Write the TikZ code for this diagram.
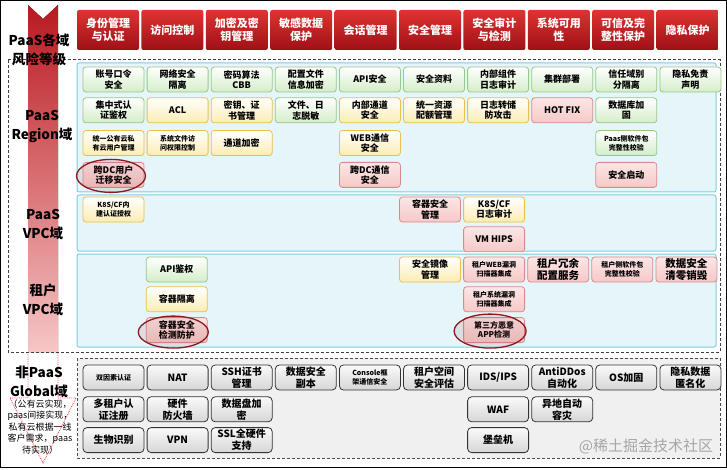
\documentclass[tikz,border=0pt]{standalone}
\usepackage{fontspec}
\setmainfont{Noto Sans CJK SC}
\usetikzlibrary{positioning,shapes.geometric}

\definecolor{hdtop}{RGB}{222,52,50}
\definecolor{hdbot}{RGB}{158,16,22}
\definecolor{grnbd}{RGB}{150,200,135}
\definecolor{grnlo}{RGB}{212,237,200}
\definecolor{ylwbd}{RGB}{232,192,80}
\definecolor{ylwlo}{RGB}{252,236,178}
\definecolor{pnkbd}{RGB}{215,140,140}
\definecolor{pnklo}{RGB}{246,200,200}
\definecolor{gryhi}{RGB}{250,250,250}
\definecolor{grylo}{RGB}{214,214,214}
\definecolor{panelbd}{RGB}{130,205,222}
\definecolor{panelbg}{RGB}{229,245,250}
\definecolor{ringred}{RGB}{140,25,30}
\definecolor{arrtop}{RGB}{185,25,32}
\definecolor{arrmid}{RGB}{228,104,104}
\definecolor{arrbot}{RGB}{246,198,198}

\tikzset{
  cell/.style={rectangle, rounded corners=3pt, minimum width=61pt, minimum height=25pt,
    inner sep=1pt, align=center, line width=0.8pt, font=\fontsize{9}{10.5}\selectfont\bfseries},
  gcell/.style={cell, draw=grnbd, top color=white, bottom color=grnlo},
  ycell/.style={cell, draw=ylwbd, top color=white, bottom color=ylwlo},
  pcell/.style={cell, draw=pnkbd, top color=white!55!pnklo, bottom color=pnklo},
  kcell/.style={cell, rounded corners=4pt, draw=black!80, top color=gryhi, bottom color=grylo,
    font=\fontsize{10}{12}\selectfont\bfseries},
  smalltxt/.style={font=\fontsize{7}{8.5}\selectfont\bfseries},
  midtxt/.style={font=\fontsize{8}{9.5}\selectfont\bfseries},
  bigtxt/.style={font=\fontsize{10.5}{12}\selectfont\bfseries},
  hdr/.style={rectangle, rounded corners=2pt, minimum width=62pt, minimum height=40pt,
    inner sep=1pt, align=center, text=white, top color=hdtop, bottom color=hdbot,
    font=\fontsize{11}{13}\selectfont\bfseries},
  ring/.style={ellipse, draw=ringred, line width=1.3pt, fill=ringred, fill opacity=0.1, inner sep=0pt},
  lbl/.style={align=center, font=\fontsize{13.5}{19}\selectfont\bfseries},
  note/.style={align=center, font=\fontsize{9}{11.5}\selectfont},
  panel/.style={draw=panelbd, line width=1pt, fill=panelbg, rounded corners=2pt},
  dashbox/.style={draw=black!75, line width=1pt, dash pattern=on 3pt off 2pt},
}

\begin{document}
\begin{tikzpicture}[x=1pt, y=-1pt]
\useasboundingbox (0,0) rectangle (727,470);
\draw[line width=1pt] (0.5,0.5) rectangle (726.5,467);

% risk arrow
\fill[top color=arrtop, middle color=arrmid, bottom color=arrbot]
  (28,5) -- (43,19) -- (58,5) -- (58,352) -- (28,352) -- cycle;
\draw[red!75, densely dotted, line width=0.8pt]
  (28,352) -- (28,398) -- (10,398) -- (43,463) -- (76,398) -- (58,398) -- (58,352);

% domains
\draw[dashbox] (8,60) rectangle (720,352);
\draw[panel] (77,63) rectangle (716,192);
\draw[panel] (77,195) rectangle (716,251);
\draw[panel] (77,254) rectangle (716,347);
\draw[dashbox, draw=black!70, fill=black!6] (77,358) rectangle (720,458);

% headers
\node[hdr] (h1) at (108,30) {身份管理\\与认证};
\node[hdr] (h2) [right=2pt of h1] {访问控制};
\node[hdr] (h3) [right=2pt of h2] {加密及密\\钥管理};
\node[hdr] (h4) [right=2pt of h3] {敏感数据\\保护};
\node[hdr] (h5) [right=2pt of h4] {会话管理};
\node[hdr] (h6) [right=2pt of h5] {安全管理};
\node[hdr] (h7) [right=2pt of h6] {安全审计\\与检测};
\node[hdr] (h8) [right=2pt of h7] {系统可用\\性};
\node[hdr] (h9) [right=2pt of h8] {可信及完\\整性保护};
\node[hdr] (h10) [right=2pt of h9] {隐私保护};

% PaaS Region
\node[gcell] (pwd) at (113.5,79.5) {账号口令\\安全};
\node[gcell] (netiso) [right=2.3pt of pwd] {网络安全\\隔离};
\node[gcell] (algo) [right=2.3pt of netiso] {密码算法\\CBB};
\node[gcell] (cfgenc) [right=2.3pt of algo] {配置文件\\信息加密};
\node[gcell] (apisec) [right=2.3pt of cfgenc] {API安全};
\node[gcell] (secdoc) [right=2.3pt of apisec] {安全资料};
\node[gcell] (logaud) [right=2.3pt of secdoc] {内部组件\\日志审计};
\node[gcell] (cluster) [right=2.3pt of logaud] {集群部署};
\node[gcell] (trust) [right=2.3pt of cluster] {信任域别\\分隔离};
\node[gcell] (disclaim) [right=2.3pt of trust] {隐私免责\\声明};

\node[gcell] (cauth) [below=5pt of pwd] {集中式认\\证鉴权};
\node[ycell] (acl) [below=5pt of netiso] {ACL};
\node[ycell] (keymgmt) [below=5pt of algo] {密钥、证\\书管理};
\node[gcell] (mask) [below=5pt of cfgenc] {文件、日\\志脱敏};
\node[ycell] (inchan) [below=5pt of apisec] {内部通道\\安全};
\node[ycell] (quota) [below=5pt of secdoc] {统一资源\\配额管理};
\node[ycell] (logdump) [below=5pt of logaud] {日志转储\\防攻击};
\node[pcell] (hotfix) [below=5pt of cluster] {HOT FIX};
\node[gcell] (dbhard) [below=5pt of trust] {数据库加\\固};

\node[ycell, smalltxt] (uniuser) [below=7pt of cauth] {统一公有云私\\有云用户管理};
\node[ycell, smalltxt] (fileacl) [below=7pt of acl] {系统文件访\\问权限控制};
\node[ycell] (chenc) [below=7pt of keymgmt] {通道加密};
\node[ycell] (websec) [below=7pt of inchan] {WEB通信\\安全};
\node[gcell, smalltxt] (pkgchk) [below=7pt of dbhard] {Paas侧软件包\\完整性校验};

\node[pcell] (dcuser) [below=6pt of uniuser] {跨DC用户\\迁移安全};
\node[pcell] (dccomm) [below=6pt of websec] {跨DC通信\\安全};
\node[pcell] (secboot) [below=6pt of pkgchk] {安全启动};

% PaaS VPC
\node[ycell, smalltxt] (k8sauth) at (113.5,209.5) {K8S/CF内\\建认证授权};
\node[pcell] (ctrmgmt) at (430,209.5) {容器安全\\管理};
\node[ycell] (k8slog) [right=2.3pt of ctrmgmt] {K8S/CF\\日志审计};
\node[pcell] (hips) [below=4pt of k8slog] {VM HIPS};

% tenant VPC
\node[gcell] (apiauth) at (176.8,269.5) {API鉴权};
\node[ycell] (ctriso) [below=4pt of apiauth] {容器隔离};
\node[pcell] (ctrscan) [below=5pt of ctriso] {容器安全\\检测防护};
\node[ycell] (image) at (430,269.5) {安全镜像\\管理};
\node[pcell, smalltxt] (webscan) [right=2.3pt of image] {租户WEB漏洞\\扫描器集成};
\node[pcell, bigtxt] (redund) [right=2.3pt of webscan] {租户冗余\\配置服务};
\node[pcell, smalltxt] (tpkgchk) [right=2.3pt of redund] {租户侧软件包\\完整性校验};
\node[pcell, bigtxt] (wipe) [right=2.3pt of tpkgchk] {数据安全\\清零销毁};
\node[pcell, smalltxt] (sysscan) [below=4pt of webscan] {租户系统漏洞\\扫描器集成};
\node[pcell, midtxt] (appscan) [below=5pt of sysscan] {第三方恶意\\APP检测};

% highlighted items
\node[ring, minimum width=69pt, minimum height=33pt] (dcring) at ([xshift=-2.5pt,yshift=-1pt]dcuser.center) {};
\node[ring, minimum width=70pt, minimum height=32pt] (ctrring) at ([xshift=-3.5pt,yshift=-2pt]ctrscan.center) {};
\node[ring, minimum width=72pt, minimum height=34pt] (appring) at ([xshift=-4pt,yshift=-1pt]appscan.center) {};

% non-PaaS global
\node[kcell, smalltxt] (twofa) at (113.5,377.5) {双因素认证};
\node[kcell] (nat) [right=2.3pt of twofa] {NAT};
\node[kcell] (sshcert) [right=2.3pt of nat] {SSH证书\\管理};
\node[kcell] (backup) [right=2.3pt of sshcert] {数据安全\\副本};
\node[kcell, smalltxt] (console) [right=2.3pt of backup] {Console框\\架通信安全};
\node[kcell] (tenassess) [right=2.3pt of console] {租户空间\\安全评估};
\node[kcell] (ids) [right=2.3pt of tenassess] {IDS/IPS};
\node[kcell] (ddos) [right=2.3pt of ids] {AntiDDos\\自动化};
\node[kcell] (oshard) [right=2.3pt of ddos] {OS加固};
\node[kcell] (anon) [right=2.3pt of oshard] {隐私数据\\匿名化};
\node[kcell] (mtreg) [below=6pt of twofa] {多租户认\\证注册};
\node[kcell] (hwfw) [below=6pt of nat] {硬件\\防火墙};
\node[kcell] (diskenc) [below=6pt of sshcert] {数据盘加\\密};
\node[kcell] (waf) [below=6pt of ids] {WAF};
\node[kcell] (dr) [below=6pt of ddos] {异地自动\\容灾};
\node[kcell] (bio) [below=5pt of mtreg] {生物识别};
\node[kcell] (vpn) [below=5pt of hwfw] {VPN};
\node[kcell] (sslhw) [below=5pt of diskenc] {SSL全硬件\\支持};
\node[kcell] (bastion) [below=5pt of waf] {堡垒机};

% level labels
\node[lbl] (lrisk) at (39,50) {PaaS各域\\风险等级};
\node[lbl] (lregion) at (42,126) {PaaS\\Region域};
\node[lbl] (lvpc) at (43,225) {PaaS\\VPC域};
\node[lbl] (ltenant) at (43,300) {租户\\VPC域};
\node[lbl] (lglobal) at (39,382) {非PaaS\\Global域};
\node[note] (lnote) at (40,427) {（公有云实现，\\paas间接实现，\\私有云根据一线\\客户需求，paas\\待实现）};

\node[text=black!35, font=\fontsize{15}{17}\selectfont] (wm) at (646,446) {@稀土掘金技术社区};
\end{tikzpicture}
\end{document}
